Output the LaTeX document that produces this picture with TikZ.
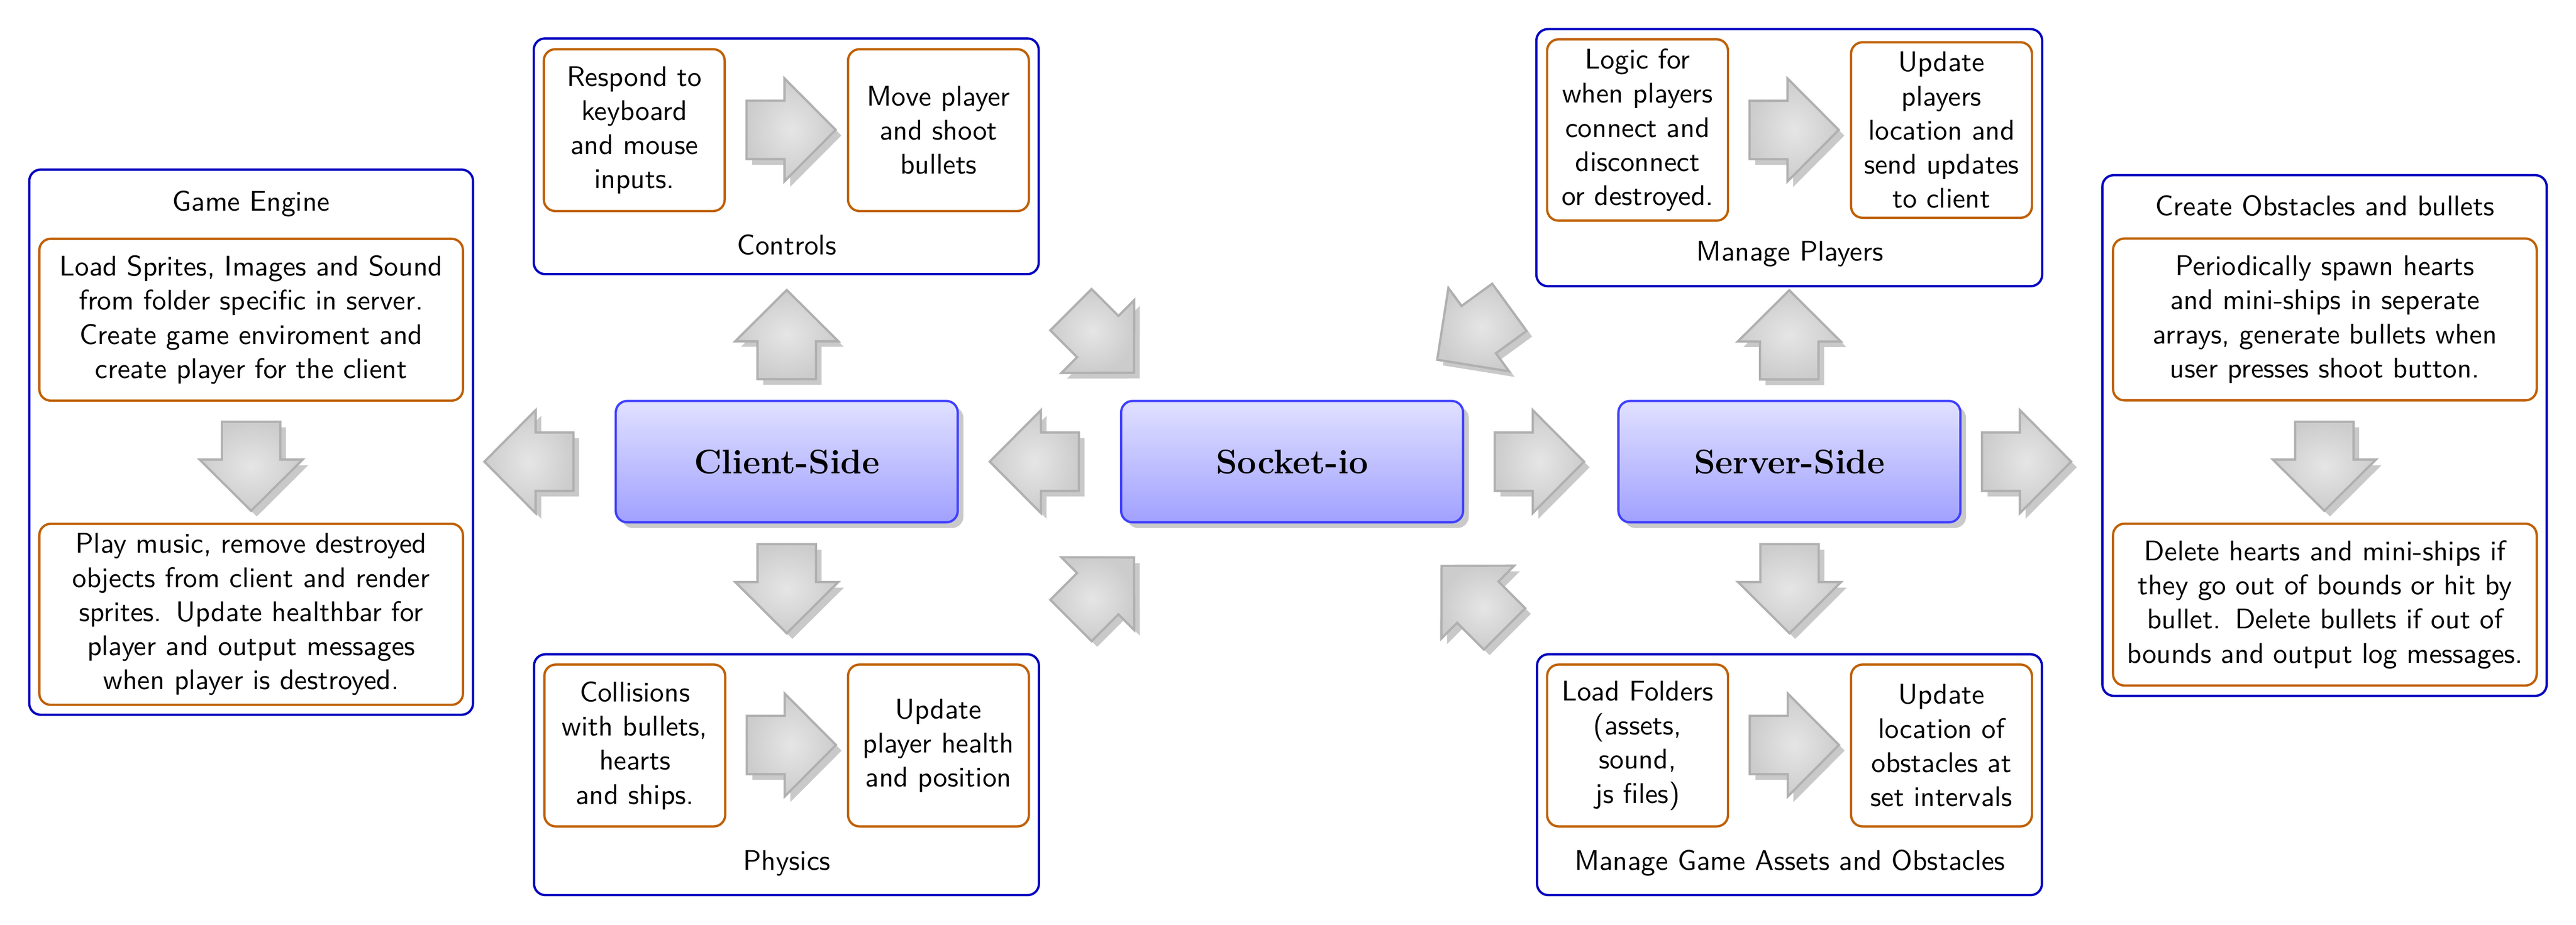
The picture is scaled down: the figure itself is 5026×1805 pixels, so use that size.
\documentclass[tikz,border=0pt]{standalone}
\usetikzlibrary{shadows}
\tikzset{
  groupbox/.style={draw=blue!75!black, thick, rounded corners=4pt, inner sep=0pt},
  stepbox/.style={draw=orange!75!black, thick, rounded corners=4pt, text width=2cm, minimum height=2cm, align=center, font=\sffamily},
  widebox/.style={stepbox, text width=5cm},
  grouplabel/.style={anchor=base, font=\sffamily, inner sep=0pt},
  mainbox/.style={draw=blue!75, thick, rounded corners=4pt, top color=blue!12, bottom color=blue!37, minimum width=120.2pt, minimum height=1.5cm, font=\large\bfseries, drop shadow={shadow xshift=2pt, shadow yshift=-2pt, fill=black!21, opacity=1}},
  arrowbody/.style={draw=black!31, thick, shade, shading=radial, inner color=black!10, outer color=black!20},
  arrowshadow/.style={fill=black!21},
}
% #1 name, #2 centre (px), #3 direction angle
\newcommand\blockarrow[3]{%
  \begin{scope}[shift={(#2)}, shift={(11,11)}, rotate=#3]
    \path[arrowshadow] (-87,-57) -- (-13,-57) -- (-13,-100.5) -- (87,0) -- (-13,100.5) -- (-13,57) -- (-87,57) -- cycle;
  \end{scope}
  \begin{scope}[shift={(#2)}, rotate=#3]
    \path[arrowbody] (-87,-57) -- (-13,-57) -- (-13,-100.5) -- (87,0) -- (-13,100.5) -- (-13,57) -- (-87,57) -- cycle;
    \coordinate (#1) at (0,0);
  \end{scope}}
\begin{document}
\begin{tikzpicture}[x=0.18018pt, y=-0.18018pt]
\useasboundingbox (0,0) rectangle (5026,1805);

% ---------- Game Engine ----------
\node[groupbox, minimum width=156.0pt, minimum height=191.7pt] (ge) at (490,863) {};
\node[grouplabel] (getitle) at (490,411.5) {Game Engine};
\node[widebox] (ge1) at (490,624) {Load Sprites, Images and Sound\\ from folder specific in server.\\ Create game enviroment and\\ create player for the client};
\node[widebox] (ge2) at (490,1199) {Play music, remove destroyed\\ objects from client and render\\ sprites. Update healthbar for\\ player and output messages\\ when player is destroyed.};
\blockarrow{age}{490,910}{-90}

% ---------- Create Obstacles ----------
\node[groupbox, minimum width=156.2pt, minimum height=183.1pt] (co) at (4535.3,850) {};
\node[grouplabel] (cotitle) at (4536,420.7) {Create Obstacles and bullets};
\node[widebox] (co1) at (4536,623.5) {Periodically spawn hearts\\ and mini-ships in seperate\\ arrays, generate bullets when\\ user presses shoot button.};
\node[widebox] (co2) at (4536,1180) {Delete hearts and mini-ships if\\ they go out of bounds or hit by\\ bullet. Delete bullets if out of\\ bounds and output log messages.};
\blockarrow{aco}{4535,910}{-90}

% ---------- Controls ----------
\node[groupbox, minimum width=177.5pt, minimum height=82.9pt] (ct) at (1534,305) {};
\node[stepbox] (ct1) at (1237.5,254) {Respond to\\ keyboard\\ and mouse\\ inputs.};
\node[stepbox] (ct2) at (1831,254) {Move player\\ and shoot\\ bullets};
\node[grouplabel] (cttitle) at (1535,497) {Controls};
\blockarrow{act}{1543.5,253.5}{0}

% ---------- Physics ----------
\node[groupbox, minimum width=177.5pt, minimum height=84.7pt] (ph) at (1534.5,1512) {};
\node[stepbox] (ph1) at (1238.5,1455) {Collisions\\ with bullets,\\ hearts\\ and ships.};
\node[stepbox] (ph2) at (1831,1455) {Update\\ player health\\ and position};
\node[grouplabel] (phtitle) at (1535,1698) {Physics};
\blockarrow{aph}{1544,1454}{0}

% ---------- Manage Players ----------
\node[groupbox, minimum width=177.8pt, minimum height=90.4pt] (mp) at (3491,307.7) {};
\node[stepbox] (mp1) at (3195,253.7) {Logic for\\ when players\\ connect and\\ disconnect\\ or destroyed.};
\node[stepbox] (mp2) at (3788,253.8) {Update\\ players\\ location and\\ send updates\\ to client};
\node[grouplabel] (mptitle) at (3492,508.7) {Manage Players};
\blockarrow{amp}{3500.5,253.6}{0}

% ---------- Manage Game Assets ----------
\node[groupbox, minimum width=177.5pt, minimum height=84.7pt] (mg) at (3491.4,1512) {};
\node[stepbox] (mg1) at (3195,1455) {Load Folders\\ (assets,\\ sound,\\ js files)};
\node[stepbox] (mg2) at (3788,1455) {Update\\ location of\\ obstacles at\\ set intervals};
\node[grouplabel] (mgtitle) at (3492,1698) {Manage Game Assets and Obstacles};
\blockarrow{amg}{3501,1454}{0}

% ---------- Main nodes ----------
\node[mainbox] (client) at (1535,901) {Client-Side};
\node[mainbox] (socket) at (2521,901) {Socket-io};
\node[mainbox] (server) at (3491.3,901) {Server-Side};

% ---------- Block arrows between blocks ----------
\blockarrow{aclge}{1032,901}{180}
\blockarrow{asocl}{2018,901}{180}
\blockarrow{asose}{3003.5,901}{0}
\blockarrow{aseco}{3954,901}{0}
\blockarrow{aclct}{1535,653}{90}
\blockarrow{aclph}{1535,1149}{-90}
\blockarrow{asemp}{3491,653.5}{90}
\blockarrow{asemg}{3491.5,1149}{-90}
\blockarrow{actso}{2151,666}{-45}
\blockarrow{aphso}{2151,1149.5}{45}
\blockarrow{ampso}{2874.5,651}{216}
\blockarrow{amgso}{2874,1166}{135}
\end{tikzpicture}
\end{document}
